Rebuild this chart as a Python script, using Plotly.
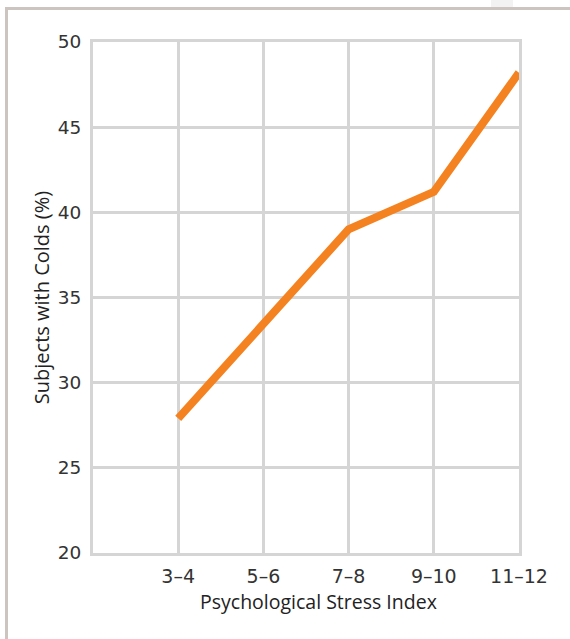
import plotly.graph_objects as go

categories = ["3–4", "5–6", "7–8", "9–10", "11–12"]
cold_pct = [27.9, 33.4, 39.0, 41.2, 48.2]
y_ticks = [20, 25, 30, 35, 40, 45, 50]
x_title = "Psychological Stress Index"
y_title = "Subjects with Colds (%)"

L, R, T, B = 93, 51, 42, 86
W, H = 570, 639
pw, ph = W - L - R, H - T - B

def px(x):
    return (x - L) / pw

def py(y):
    return 1 - (y - T) / ph

fig = go.Figure()
fig.add_trace(go.Scatter(
    x=list(range(len(categories))), y=cold_pct, mode="lines",
    line=dict(color="#f58220", width=8), hoverinfo="skip", showlegend=False,
))

grid = "#d5d5d5"
fig.update_layout(
    width=W, height=H,
    margin=dict(l=L, r=R, t=T, b=B),
    paper_bgcolor="white", plot_bgcolor="white",
    font=dict(family="Open Sans", color="#333333"),
    xaxis=dict(
        range=[-1, len(categories) - 1],
        tickmode="array", tickvals=list(range(len(categories))), ticktext=categories,
        showgrid=True, gridcolor=grid, gridwidth=3,
        zeroline=False, showline=True, linecolor=grid, linewidth=3, mirror=True,
        tickfont=dict(size=19, family="DejaVu Sans", color="#333333"),
        ticks="", ticklabelstandoff=4,
        fixedrange=True,
    ),
    yaxis=dict(
        range=[20, 50], tickmode="array", tickvals=y_ticks,
        showgrid=True, gridcolor=grid, gridwidth=3,
        zeroline=False, showline=True, linecolor=grid, linewidth=3, mirror=True,
        tickfont=dict(size=18.5, family="DejaVu Sans", color="#333333"),
        ticks="", ticklabelstandoff=5,
        title=dict(text=y_title, standoff=3,
                   font=dict(size=20, family="Open Sans", color="#222222")),
        fixedrange=True,
    ),
    annotations=[
        dict(text=x_title, xref="paper", yref="paper", x=px(318.5), y=py(601),
             xanchor="center", yanchor="middle", showarrow=False,
             font=dict(size=19.5, family="Open Sans", color="#222222")),
    ],
    shapes=[
        dict(type="line", xref="paper", yref="paper", x0=px(6.5), x1=px(6.5), y0=py(8.5), y1=py(645),
             line=dict(color="#cbc4bf", width=3)),
        dict(type="line", xref="paper", yref="paper", x0=px(5), x1=px(575), y0=py(8.5), y1=py(8.5),
             line=dict(color="#cbc4bf", width=3)),
        dict(type="rect", xref="paper", yref="paper", x0=px(491), x1=px(513), y0=py(0), y1=py(7),
             fillcolor="#f2f2f2", line=dict(width=0), layer="below"),
    ],
)

fig.write_html("out.html", config={"displayModeBar": False},
               post_script="document.body.style.margin='0';document.body.style.padding='0';")
